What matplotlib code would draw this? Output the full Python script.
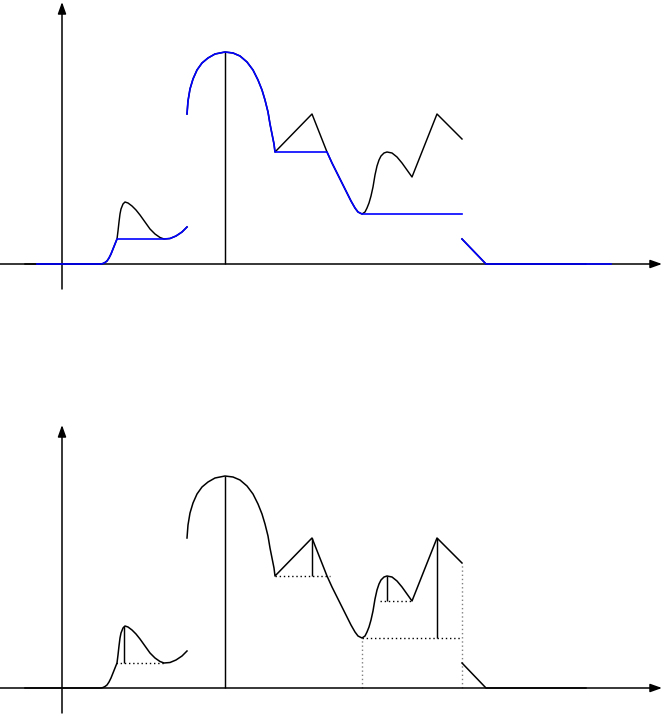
import matplotlib.pyplot as plt

# function f, in three pieces (x in px, height above the axis)
f1_x = [25, 101, 103, 105, 107, 109, 111, 113, 115, 117, 118, 119, 120, 121, 123, 125, 128, 132, 136, 140, 145, 150, 155, 160, 164, 170, 176, 182, 187]
f1_y = [0, 0, 0.5, 1.5, 3, 6, 10, 15, 20, 25, 33, 42, 50, 55, 60, 62, 61, 58, 54, 49, 42, 35, 30, 26.5, 25, 25.5, 28, 32, 37]

f2_x = [187, 188, 190, 193, 197, 202, 208, 215, 225, 233, 240, 247, 253, 258, 262, 265, 268, 270, 272, 274, 275,
        312, 327, 332, 337, 342, 347, 351, 355, 358, 362,
        365, 367, 369, 371, 373, 375, 377, 379, 381, 384, 387, 392, 397, 402, 407, 412, 437, 462]
f2_y = [150, 163, 175, 185, 194, 201, 206, 210, 212, 211, 208, 202, 194, 184, 174, 164, 152, 140, 130, 120, 112,
        150, 112, 101, 91, 81, 71, 63, 56, 52, 50,
        52, 56, 61, 68, 77, 89, 98, 104, 108, 111, 112, 111, 107, 101, 94, 87, 150, 125]

f3_x = [462, 486, 586]
f3_y = [25, 0, 0]

# blue curve (top panel)
g1_x = [37, 101, 103, 105, 107, 109, 111, 113, 115, 117, 164, 170, 176, 182, 187]
g1_y = [0, 0, 0.5, 1.5, 3, 6, 10, 15, 20, 25, 25, 25.5, 28, 32, 37]

g2_x = [187, 188, 190, 193, 197, 202, 208, 215, 225, 233, 240, 247, 253, 258, 262, 265, 268, 270, 272, 274, 275,
        327, 332, 337, 342, 347, 351, 355, 358, 362, 462]
g2_y = [150, 163, 175, 185, 194, 201, 206, 210, 212, 211, 208, 202, 194, 184, 174, 164, 152, 140, 130, 120, 112,
        112, 101, 91, 81, 71, 63, 56, 52, 50, 50]

g3_x = [462, 486, 611]
g3_y = [25, 0, 0]

# bottom panel helpers
stem_x = [124, 225, 312, 387, 437]
stem_lo = [25, 0, 112, 87, 50]
stem_hi = [62, 212, 150, 112, 150]

dot_y = [25, 112, 87, 50]
dot_x0 = [116, 275, 380, 362]
dot_x1 = [164, 330, 412, 460]

gray_x = [362, 462]
gray_hi = [50, 125]

fig = plt.figure(figsize=(6.64, 7.14), dpi=100)
ax1 = fig.add_axes([0, 414 / 714, 1, 300 / 714])
ax2 = fig.add_axes([0, 0, 1, 314 / 714])
ax1.set_xlim(0, 664)
ax1.set_ylim(-36, 264)
ax2.set_xlim(0, 664)
ax2.set_ylim(-26, 288)

arrow = dict(arrowstyle='-|>,head_length=0.7,head_width=0.25', lw=1.1, color='black',
             shrinkA=0, shrinkB=0)


def draw_axes(ax, ybot, ytop):
    ax.annotate('', xy=(662, 0), xytext=(0, 0), arrowprops=arrow)
    ax.annotate('', xy=(62, ytop), xytext=(62, ybot), arrowprops=arrow)
    ax.axis('off')


# top panel
draw_axes(ax1, -25, 262)
ax1.vlines(225, 0, 212, color='black', lw=1.05)
for xs, ys in [(f1_x, f1_y), (f2_x, f2_y), (f3_x, f3_y)]:
    ax1.plot(xs, ys, color='black', lw=1.05, solid_joinstyle='round')
for xs, ys in [(g1_x, g1_y), (g2_x, g2_y), (g3_x, g3_y)]:
    ax1.plot(xs, ys, color='#0000ff', lw=1.2, solid_joinstyle='round', zorder=5)

# bottom panel
draw_axes(ax2, -25, 263)
for xs, ys in [(f1_x, f1_y), (f2_x, f2_y), (f3_x, f3_y)]:
    ax2.plot(xs, ys, color='black', lw=1.1, solid_joinstyle='round', zorder=5)
ax2.vlines(stem_x, stem_lo, stem_hi, color='black', lw=1.05)
for y, a, b in zip(dot_y, dot_x0, dot_x1):
    ax2.plot([a, b], [y, y], color='black', lw=1.0, dashes=(1, 2))
for x, h in zip(gray_x, gray_hi):
    ax2.plot([x, x], [0, h], color='gray', lw=1.0, dashes=(1, 2))

fig.savefig('out.png', dpi=100)
